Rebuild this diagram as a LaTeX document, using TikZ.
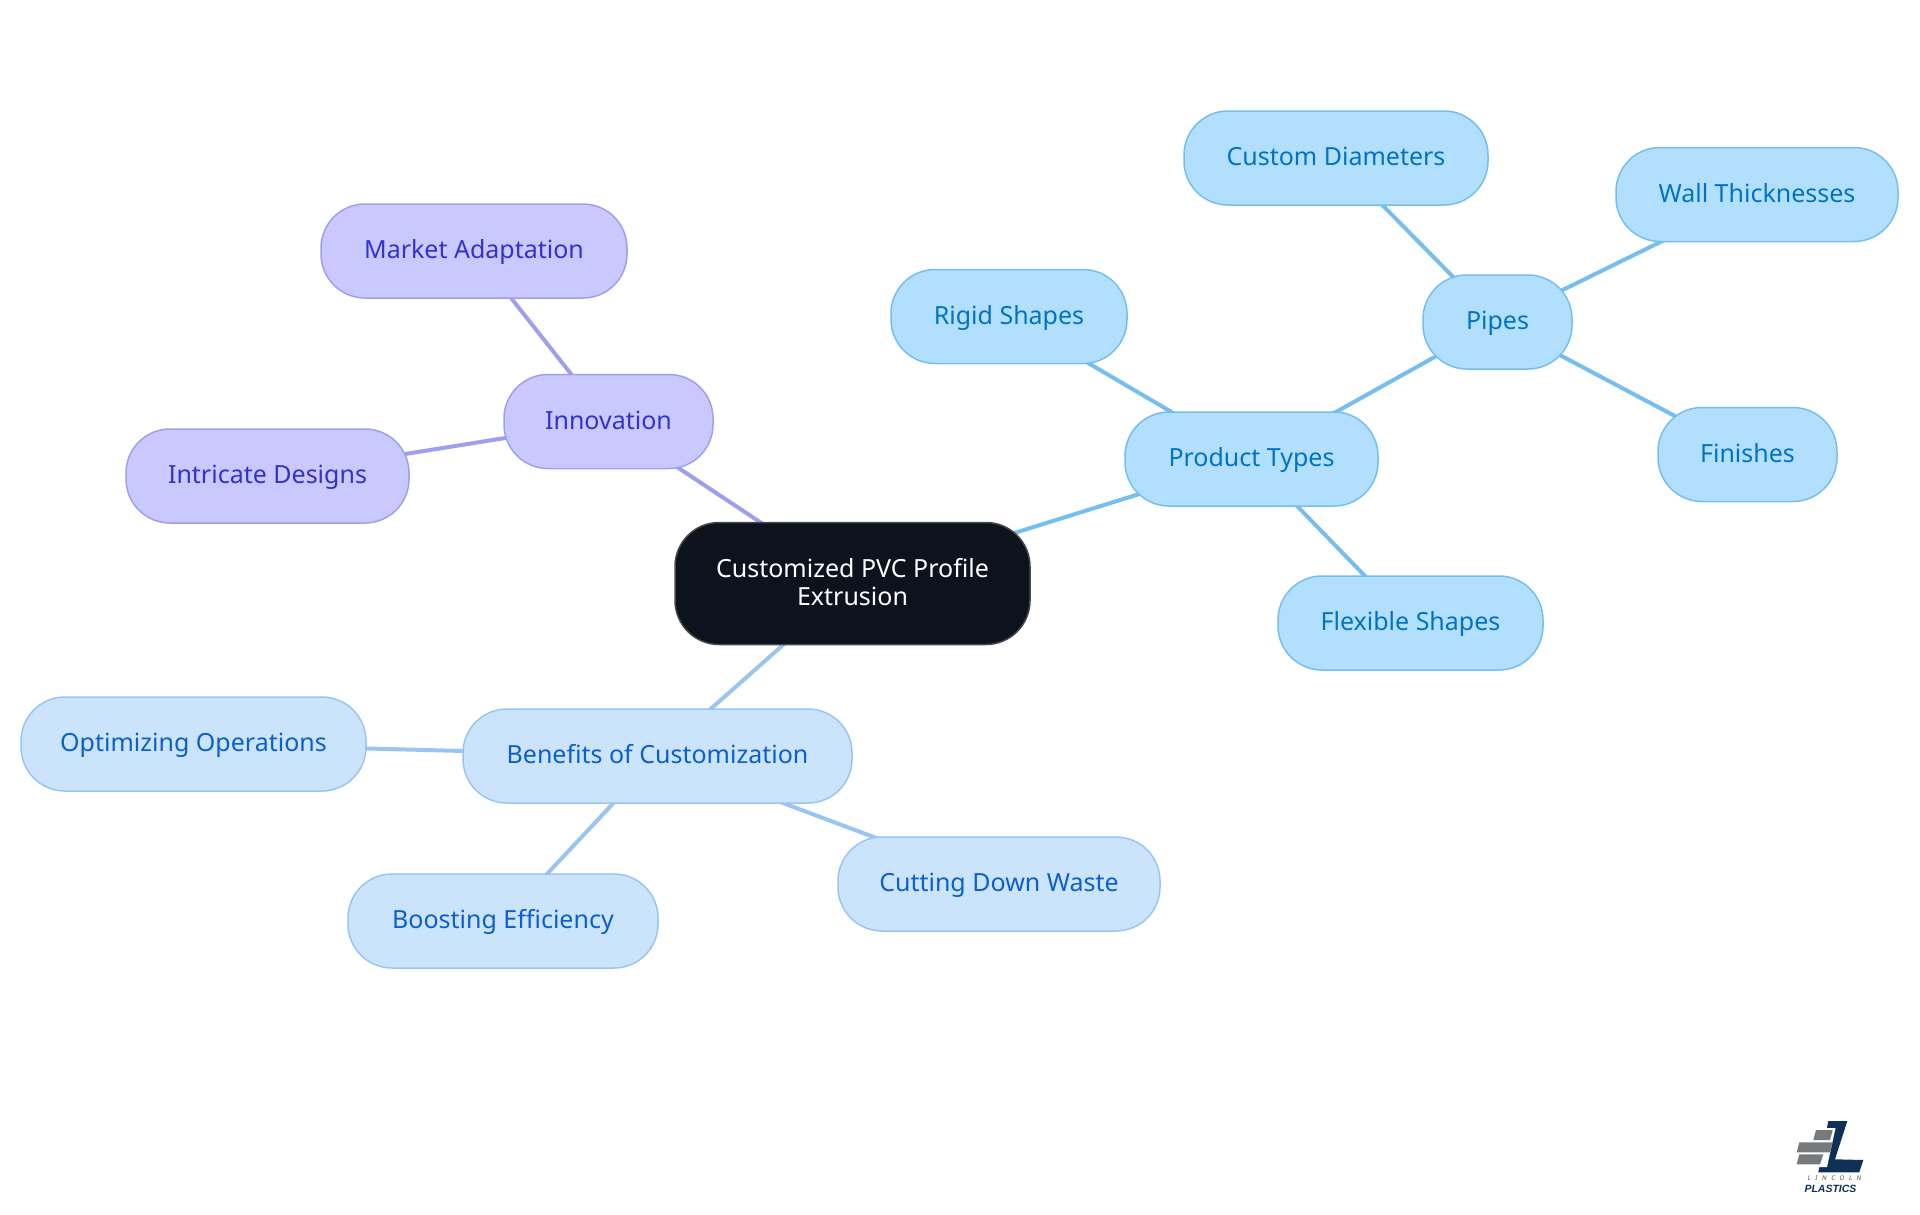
\documentclass[tikz,border=0pt]{standalone}
\usepackage{fontspec}
\setmainfont{Noto Sans}
\newfontfamily\logofont{Liberation Sans}
\usetikzlibrary{backgrounds}
\definecolor{rootfill}{HTML}{0C131C}
\definecolor{rootline}{HTML}{45494F}
\definecolor{purpfill}{HTML}{C9C9FF}
\definecolor{purpline}{HTML}{9F9FF0}
\definecolor{purptext}{HTML}{3232CC}
\definecolor{skyfill}{HTML}{B3DFFF}
\definecolor{skyline}{HTML}{76BEF0}
\definecolor{skytext}{HTML}{0073C4}
\definecolor{palefill}{HTML}{CCE3FC}
\definecolor{paleline}{HTML}{9AC5F2}
\definecolor{paletext}{HTML}{0A60CC}
\definecolor{logonavy}{HTML}{0F3057}
\definecolor{logogray}{HTML}{77797C}
\tikzset{
  bubble/.style={draw, rectangle, rounded corners=44pt, inner sep=0pt, line width=1.5pt,
    minimum height=94pt, align=center, font=\fontsize{25}{28}\selectfont},
  oneline/.style={bubble, text height=19.5pt, text depth=3.9pt},
  rootnode/.style={bubble, fill=rootfill, draw=rootline, text=white, minimum height=122pt},
  purpnode/.style={oneline, fill=purpfill, draw=purpline, text=purptext},
  skynode/.style={oneline, fill=skyfill, draw=skyline, text=skytext},
  palenode/.style={oneline, fill=palefill, draw=paleline, text=paletext},
  link/.style={line width=4pt}
}
\begin{document}
\begin{tikzpicture}[x=1pt, y=-1pt, line cap=round, line join=round]
  \useasboundingbox (0,0) rectangle (1920,1215);
  % centre
  \node[rootnode, minimum width=355pt] (root) at (852.5,583.5) {Customized PVC Profile\\Extrusion\rule[-3pt]{0pt}{3pt}};
  % innovation branch
  \node[purpnode, minimum width=209pt] (innov) at (608.5,421.5) {Innovation};
  \node[purpnode, minimum width=306pt] (market) at (474,251) {Market Adaptation};
  \node[purpnode, minimum width=283pt] (intricate) at (267.5,476) {Intricate Designs};
  % product branch
  \node[skynode, minimum width=253pt] (prod) at (1251.5,459) {Product Types};
  \node[skynode, minimum width=149pt] (pipes) at (1497.5,322) {Pipes};
  \node[skynode, minimum width=304pt] (diam) at (1336,158) {Custom Diameters};
  \node[skynode, minimum width=282pt] (wall) at (1757,194.5) {Wall Thicknesses};
  \node[skynode, minimum width=179pt] (finish) at (1747.5,454.5) {Finishes};
  \node[skynode, minimum width=236pt] (rigid) at (1009,316.5) {Rigid Shapes};
  \node[skynode, minimum width=265pt] (flex) at (1410.5,623) {Flexible Shapes};
  % benefits branch
  \node[palenode, minimum width=389pt] (benefit) at (657.5,756) {Benefits of Customization};
  \node[palenode, minimum width=345pt] (optim) at (193.5,744) {Optimizing Operations};
  \node[palenode, minimum width=310pt] (boost) at (503,921) {Boosting Efficiency};
  \node[palenode, minimum width=322pt] (waste) at (999,884) {Cutting Down Waste};
  % lines run centre to centre, under the bubbles
  \begin{pgfonlayer}{background}
    \draw[link, purpline] (root.center) -- (innov.center);
    \draw[link, purpline] (innov.center) -- (market.center);
    \draw[link, purpline] (innov.center) -- (intricate.center);
    \draw[link, skyline] (root.center) -- (prod.center);
    \draw[link, skyline] (prod.center) -- (pipes.center);
    \draw[link, skyline] (prod.center) -- (rigid.center);
    \draw[link, skyline] (prod.center) -- (flex.center);
    \draw[link, skyline] (pipes.center) -- (diam.center);
    \draw[link, skyline] (pipes.center) -- (wall.center);
    \draw[link, skyline] (pipes.center) -- (finish.center);
    \draw[link, paleline] (root.center) -- (benefit.center);
    \draw[link, paleline] (benefit.center) -- (optim.center);
    \draw[link, paleline] (benefit.center) -- (boost.center);
    \draw[link, paleline] (benefit.center) -- (waste.center);
  \end{pgfonlayer}
  % logo
  \fill[logonavy] (1828.3,1121) -- (1847.3,1121) -- (1835,1159.3) -- (1863.3,1160) -- (1859.3,1172.3) -- (1818.3,1172.3) -- cycle;
  \fill[white] (1813,1128) -- (1835.5,1128) -- (1827,1167) -- (1794,1167) -- (1797,1141) -- (1811,1141) -- cycle;
  \fill[logogray] (1816,1130) -- (1832.7,1130) -- (1830,1140) -- (1813.3,1140) -- cycle;
  \fill[logogray] (1799.3,1142.3) -- (1832.7,1142.3) -- (1830,1152.3) -- (1796.7,1152.3) -- cycle;
  \fill[logogray] (1799.3,1154.3) -- (1823.3,1154.3) -- (1820,1164.3) -- (1796.7,1164.3) -- cycle;
  \node[inner sep=0pt, text=logogray!70!black, font=\fontsize{6.5}{7}\selectfont\itshape] (logotop) at (1834.5,1178.5) {L\hspace{4.6pt}I\hspace{4.6pt}N\hspace{4.6pt}C\hspace{4.6pt}O\hspace{4.6pt}L\hspace{4.6pt}N};
  \node[inner sep=0pt, text=logonavy, font=\logofont\fontsize{10.5}{12}\selectfont\bfseries\itshape] (logobot) at (1830.5,1189) {PLASTICS};
\end{tikzpicture}
\end{document}
